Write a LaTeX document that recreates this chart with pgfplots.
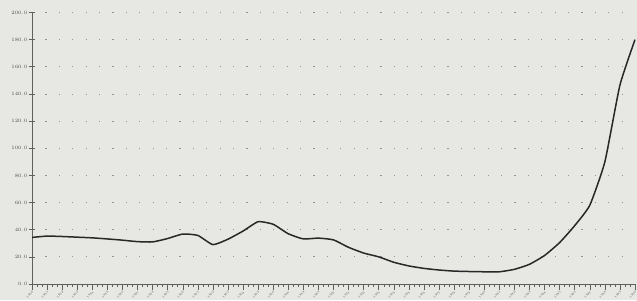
\documentclass[border=0pt]{standalone}
\usepackage{pgfplots}
\pgfplotsset{compat=1.18}
\definecolor{bgcol}{RGB}{231,231,228}
\definecolor{linecol}{RGB}{40,40,40}
\definecolor{axcol}{RGB}{95,95,95}
\begin{document}
\begin{tikzpicture}
\useasboundingbox (-32pt,-16pt) rectangle (605pt,284pt);
\fill[bgcol] (-32pt,-16pt) rectangle (605pt,284pt);
\begin{axis}[
  at={(0,0)}, anchor=south west,
  scale only axis, width=603pt, height=271.5pt,
  xmin=0, xmax=40, ymin=0, ymax=200,
  axis lines=left, axis line style={axcol, line width=0.7pt, -},
  ytick={0,20,...,200},
  yticklabel style={font=\fontsize{5.2}{6}\selectfont, text=black!70, /pgf/number format/fixed, /pgf/number format/precision=1, /pgf/number format/fixed zerofill, inner sep=1.5pt},
  ytick align=center, major tick length=6pt,
  ymajorgrids, grid style={gray!85, line width=0.8pt, dash pattern=on 1.2pt off 12.2pt},
  xtick={0,...,40},
  xticklabels={1950,1951,1952,1953,1954,1955,1956,1957,1958,1959,1960,1961,1962,1963,1964,1965,1966,1967,1968,1969,1970,1971,1972,1973,1974,1975,1976,1977,1978,1979,1980,1981,1982,1983,1984,1985,1986,1987,1988,1989,1990},
  xticklabel style={font=\fontsize{3}{3}\selectfont, text=black!70, rotate=45, anchor=north east, inner sep=0.6pt},
  x tick style={axcol, line width=0.5pt},
  y tick style={axcol, line width=0.6pt},
  minor x tick num=2,
  xtick align=outside,
  tick style={major tick length=1.6pt},
  clip=false,
]
\addplot[linecol, line width=1.5pt, smooth, tension=0.3] coordinates {
(0,34.3) (1,35.3) (2,35.0) (3,34.5) (4,34.0) (5,33.2) (6,32.3) (7,31.2) (8,31.0)
(9,33.5) (10,36.8) (11,35.8) (12,29.0) (13,33.0) (14,39.0) (15,45.9) (16,44.0)
(17,37.0) (18,33.2) (19,33.8) (20,32.5) (21,27.0) (22,22.8) (23,20.0) (24,16.0)
(25,13.3) (26,11.5) (27,10.3) (28,9.5) (29,9.2) (30,9.0) (31,9.0) (32,10.8)
(33,14.5) (34,21.0) (35,30.5) (36,43.0) (37,58.0) (38,90.0) (39,146.5) (40,180.0)
};
\end{axis}
\end{tikzpicture}
\end{document}
